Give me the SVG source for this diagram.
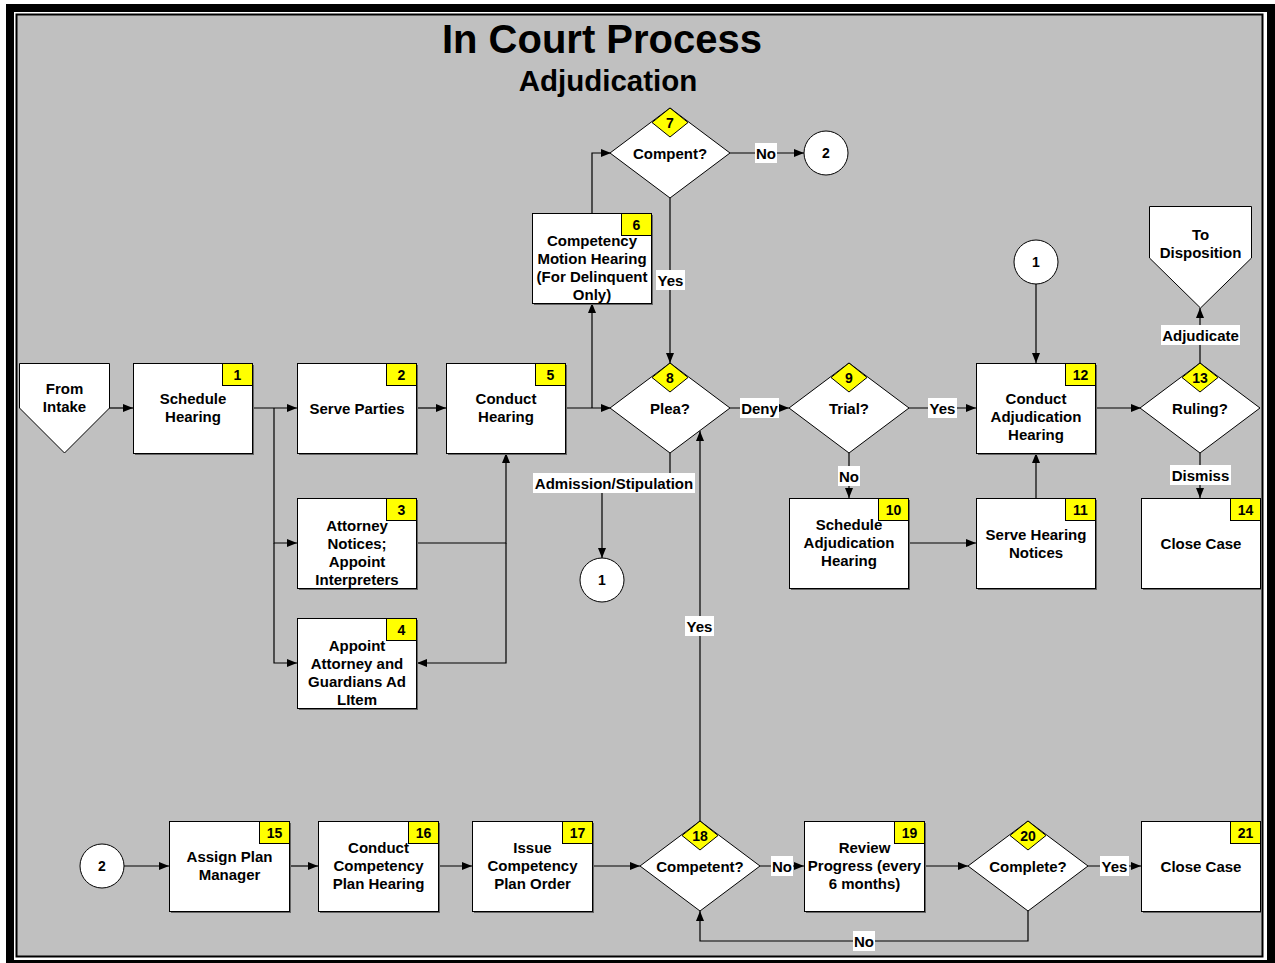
<svg xmlns="http://www.w3.org/2000/svg" width="1275" height="963" viewBox="0 0 1275 963">
<style>
.box{fill:#fff;stroke:#000;stroke-width:1}
.sh{fill:#666}
.badge{fill:#ff0;stroke:#000;stroke-width:1}
.t{font-family:"Liberation Sans",Arial,sans-serif;font-weight:bold;font-size:15px;text-anchor:middle;fill:#000}
.n{font-size:14px}
.conn{fill:none;stroke:#000;stroke-width:1.2;marker-end:url(#arr)}
.line{fill:none;stroke:#000;stroke-width:1.2}
.lbl{fill:#fff}
</style>
<defs>
<marker id="arr" viewBox="0 0 10 8" refX="10" refY="4" markerWidth="10" markerHeight="8" markerUnits="userSpaceOnUse" orient="auto"><path d="M0,0 L10,4 L0,8 z" fill="#000"/></marker>
</defs>
<rect x="6" y="4" width="1269" height="959" fill="#000"/>
<rect x="14" y="12" width="1253" height="948" fill="#fff"/>
<rect x="16.5" y="14.5" width="1246" height="942" fill="#c0c0c0" stroke="#000" stroke-width="2"/>
<g id="title">
<text class="t" x="602" y="53" style="font-size:40px">In Court Process</text>
<text class="t" x="608" y="91" style="font-size:29.5px">Adjudication</text>
</g>
<g id="connectors">
<path class="conn" d="M109,408 H133"/>
<path class="conn" d="M253,408 H297"/>
<path class="conn" d="M274,408 V543 H297"/>
<path class="conn" d="M274,543 V663 H297"/>
<path class="conn" d="M417,408 H446"/>
<path class="conn" d="M417,543 H506 V453"/>
<path class="conn" d="M506,543 V663 H417"/>
<path class="conn" d="M566,408 H611"/>
<path class="conn" d="M592,408 V303"/>
<path class="conn" d="M592,213 V153 H611"/>
<path class="conn" d="M730,153 H804"/>
<path class="conn" d="M670,198 V363"/>
<path class="conn" d="M670,453 V483 H602 V558"/>
<path class="conn" d="M730,408 H789"/>
<path class="conn" d="M908,408 H976"/>
<path class="conn" d="M849,453 V498"/>
<path class="conn" d="M909,543 H976"/>
<path class="conn" d="M1036,498 V453"/>
<path class="conn" d="M1036,284 V363"/>
<path class="conn" d="M1096,408 H1141"/>
<path class="conn" d="M1200,363 V308"/>
<path class="conn" d="M1200,453 V498"/>
<path class="conn" d="M124,866 H169"/>
<path class="conn" d="M289,866 H318"/>
<path class="conn" d="M438,866 H472"/>
<path class="conn" d="M592,866 H640"/>
<path class="conn" d="M760,866 H804"/>
<path class="conn" d="M700,821 V431"/>
<path class="conn" d="M924,866 H968"/>
<path class="conn" d="M1088,866 H1141"/>
<path class="conn" d="M1028,911 V941 H700 V911"/>
<g id="labels">
<rect class="lbl" x="755" y="143" width="22" height="20"/><text class="t" x="766" y="158.5">No</text>
<rect class="lbl" x="656" y="270" width="29" height="20"/><text class="t" x="670.5" y="285.5">Yes</text>
<rect class="lbl" x="533" y="473" width="162" height="20"/><text class="t" x="614" y="488.5">Admission/Stipulation</text>
<rect class="lbl" x="740" y="398" width="39" height="20"/><text class="t" x="759.5" y="413.5">Deny</text>
<rect class="lbl" x="928" y="398" width="29" height="20"/><text class="t" x="942.5" y="413.5">Yes</text>
<rect class="lbl" x="838" y="466" width="22" height="20"/><text class="t" x="849" y="481.5">No</text>
<rect class="lbl" x="1161" y="325" width="79" height="20"/><text class="t" x="1200.5" y="340.5">Adjudicate</text>
<rect class="lbl" x="1170" y="465" width="61" height="20"/><text class="t" x="1200.5" y="480.5">Dismiss</text>
<rect class="lbl" x="771" y="856" width="22" height="20"/><text class="t" x="782" y="871.5">No</text>
<rect class="lbl" x="685" y="616" width="29" height="20"/><text class="t" x="699.5" y="631.5">Yes</text>
<rect class="lbl" x="1100" y="856" width="29" height="20"/><text class="t" x="1114.5" y="871.5">Yes</text>
<rect class="lbl" x="853" y="931" width="22" height="20"/><text class="t" x="864" y="946.5">No</text>
</g>
</g>
<g id="from-intake">
<path class="box" d="M19.5,363.5 H109.5 V408 L64.5,453 L19.5,408 Z"/>
<text class="t" x="64.5" y="393.5">From</text><text class="t" x="64.5" y="411.5">Intake</text>
</g>
<g id="to-disposition">
<path class="box" d="M1149.5,206.5 H1251.5 V258 L1200.5,308 L1149.5,258 Z"/>
<text class="t" x="1200.5" y="239.5">To</text><text class="t" x="1200.5" y="257.5">Disposition</text>
</g>
<g id="n1"><rect class="sh" x="135" y="365" width="119" height="90"/><rect class="box" x="133.5" y="363.5" width="119" height="90"/><rect class="badge" x="222.5" y="363.5" width="30" height="22"/><text class="t n" x="237.5" y="379.5">1</text>
<text class="t" x="193" y="403.5">Schedule</text><text class="t" x="193" y="421.5">Hearing</text></g>
<g id="n2"><rect class="sh" x="299" y="365" width="119" height="90"/><rect class="box" x="297.5" y="363.5" width="119" height="90"/><rect class="badge" x="386.5" y="363.5" width="30" height="22"/><text class="t n" x="401.5" y="379.5">2</text>
<text class="t" x="357" y="413.5">Serve Parties</text></g>
<g id="n3"><rect class="sh" x="299" y="500" width="119" height="90"/><rect class="box" x="297.5" y="498.5" width="119" height="90"/><rect class="badge" x="386.5" y="498.5" width="30" height="22"/><text class="t n" x="401.5" y="514.5">3</text>
<text class="t" x="357" y="530.5">Attorney</text><text class="t" x="357" y="548.5">Notices;</text><text class="t" x="357" y="566.5">Appoint</text><text class="t" x="357" y="584.5">Interpreters</text></g>
<g id="n4"><rect class="sh" x="299" y="620" width="119" height="90"/><rect class="box" x="297.5" y="618.5" width="119" height="90"/><rect class="badge" x="386.5" y="618.5" width="30" height="22"/><text class="t n" x="401.5" y="634.5">4</text>
<text class="t" x="357" y="650.5">Appoint</text><text class="t" x="357" y="668.5">Attorney and</text><text class="t" x="357" y="686.5">Guardians Ad</text><text class="t" x="357" y="704.5">LItem</text></g>
<g id="n5"><rect class="sh" x="448" y="365" width="119" height="90"/><rect class="box" x="446.5" y="363.5" width="119" height="90"/><rect class="badge" x="535.5" y="363.5" width="30" height="22"/><text class="t n" x="550.5" y="379.5">5</text>
<text class="t" x="506" y="403.5">Conduct</text><text class="t" x="506" y="421.5">Hearing</text></g>
<g id="n6"><rect class="sh" x="534" y="215" width="119" height="90"/><rect class="box" x="532.5" y="213.5" width="119" height="90"/><rect class="badge" x="621.5" y="213.5" width="30" height="22"/><text class="t n" x="636.5" y="229.5">6</text>
<text class="t" x="592" y="245.5">Competency</text><text class="t" x="592" y="263.5">Motion Hearing</text><text class="t" x="592" y="281.5">(For Delinquent</text><text class="t" x="592" y="299.5">Only)</text></g>
<g id="d7"><path class="box" d="M670,108 L730,153 L670,198 L610,153 Z"/><path class="badge" d="M670,108 L688,122.5 L670,137 L652,122.5 Z"/><text class="t n" x="670" y="127.5">7</text>
<text class="t" x="670" y="158.5">Compent?</text></g>
<g id="c2a"><circle class="box" cx="826" cy="153" r="22"/><text class="t n" x="826" y="158">2</text></g>
<g id="d8"><path class="box" d="M670,363 L730,408 L670,453 L610,408 Z"/><path class="badge" d="M670,363 L688,377.5 L670,392 L652,377.5 Z"/><text class="t n" x="670" y="382.5">8</text>
<text class="t" x="670" y="413.5">Plea?</text></g>
<g id="c1b"><circle class="box" cx="602" cy="580" r="22"/><text class="t n" x="602" y="585">1</text></g>
<g id="d9"><path class="box" d="M849,363 L909,408 L849,453 L789,408 Z"/><path class="badge" d="M849,363 L867,377.5 L849,392 L831,377.5 Z"/><text class="t n" x="849" y="382.5">9</text>
<text class="t" x="849" y="413.5">Trial?</text></g>
<g id="n10"><rect class="sh" x="791" y="500" width="119" height="90"/><rect class="box" x="789.5" y="498.5" width="119" height="90"/><rect class="badge" x="878.5" y="498.5" width="30" height="22"/><text class="t n" x="893.5" y="514.5">10</text>
<text class="t" x="849" y="530">Schedule</text><text class="t" x="849" y="548">Adjudication</text><text class="t" x="849" y="566">Hearing</text></g>
<g id="n11"><rect class="sh" x="978" y="500" width="119" height="90"/><rect class="box" x="976.5" y="498.5" width="119" height="90"/><rect class="badge" x="1065.5" y="498.5" width="30" height="22"/><text class="t n" x="1080.5" y="514.5">11</text>
<text class="t" x="1036" y="539.5">Serve Hearing</text><text class="t" x="1036" y="557.5">Notices</text></g>
<g id="c1a"><circle class="box" cx="1036" cy="262" r="22"/><text class="t n" x="1036" y="267">1</text></g>
<g id="n12"><rect class="sh" x="978" y="365" width="119" height="90"/><rect class="box" x="976.5" y="363.5" width="119" height="90"/><rect class="badge" x="1065.5" y="363.5" width="30" height="22"/><text class="t n" x="1080.5" y="379.5">12</text>
<text class="t" x="1036" y="404">Conduct</text><text class="t" x="1036" y="422">Adjudication</text><text class="t" x="1036" y="440">Hearing</text></g>
<g id="d13"><path class="box" d="M1200,363 L1260,408 L1200,453 L1140,408 Z"/><path class="badge" d="M1200,363 L1218,377.5 L1200,392 L1182,377.5 Z"/><text class="t n" x="1200" y="382.5">13</text>
<text class="t" x="1200" y="413.5">Ruling?</text></g>
<g id="n14"><rect class="sh" x="1143" y="500" width="119" height="90"/><rect class="box" x="1141.5" y="498.5" width="119" height="90"/><rect class="badge" x="1230.5" y="498.5" width="30" height="22"/><text class="t n" x="1245.5" y="514.5">14</text>
<text class="t" x="1201" y="548.5">Close Case</text></g>
<g id="c2b"><circle class="box" cx="102" cy="866" r="22"/><text class="t n" x="102" y="871">2</text></g>
<g id="n15"><rect class="sh" x="171" y="823" width="120" height="90"/><rect class="box" x="169.5" y="821.5" width="120" height="90"/><rect class="badge" x="259.5" y="821.5" width="30" height="22"/><text class="t n" x="274.5" y="837.5">15</text>
<text class="t" x="229.5" y="861.5">Assign Plan</text><text class="t" x="229.5" y="879.5">Manager</text></g>
<g id="n16"><rect class="sh" x="320" y="823" width="120" height="90"/><rect class="box" x="318.5" y="821.5" width="120" height="90"/><rect class="badge" x="408.5" y="821.5" width="30" height="22"/><text class="t n" x="423.5" y="837.5">16</text>
<text class="t" x="378.5" y="852.5">Conduct</text><text class="t" x="378.5" y="870.5">Competency</text><text class="t" x="378.5" y="888.5">Plan Hearing</text></g>
<g id="n17"><rect class="sh" x="474" y="823" width="120" height="90"/><rect class="box" x="472.5" y="821.5" width="120" height="90"/><rect class="badge" x="562.5" y="821.5" width="30" height="22"/><text class="t n" x="577.5" y="837.5">17</text>
<text class="t" x="532.5" y="852.5">Issue</text><text class="t" x="532.5" y="870.5">Competency</text><text class="t" x="532.5" y="888.5">Plan Order</text></g>
<g id="d18"><path class="box" d="M700,821 L760,866 L700,911 L640,866 Z"/><path class="badge" d="M700,821 L718,835.5 L700,850 L682,835.5 Z"/><text class="t n" x="700" y="840.5">18</text>
<text class="t" x="700" y="871.5">Competent?</text></g>
<g id="n19"><rect class="sh" x="806" y="823" width="120" height="90"/><rect class="box" x="804.5" y="821.5" width="120" height="90"/><rect class="badge" x="894.5" y="821.5" width="30" height="22"/><text class="t n" x="909.5" y="837.5">19</text>
<text class="t" x="864.5" y="852.5">Review</text><text class="t" x="864.5" y="870.5">Progress (every</text><text class="t" x="864.5" y="888.5">6 months)</text></g>
<g id="d20"><path class="box" d="M1028,821 L1088,866 L1028,911 L968,866 Z"/><path class="badge" d="M1028,821 L1046,835.5 L1028,850 L1010,835.5 Z"/><text class="t n" x="1028" y="840.5">20</text>
<text class="t" x="1028" y="871.5">Complete?</text></g>
<g id="n21"><rect class="sh" x="1143" y="823" width="119" height="90"/><rect class="box" x="1141.5" y="821.5" width="119" height="90"/><rect class="badge" x="1230.5" y="821.5" width="30" height="22"/><text class="t n" x="1245.5" y="837.5">21</text>
<text class="t" x="1201" y="871.5">Close Case</text></g>
</svg>
